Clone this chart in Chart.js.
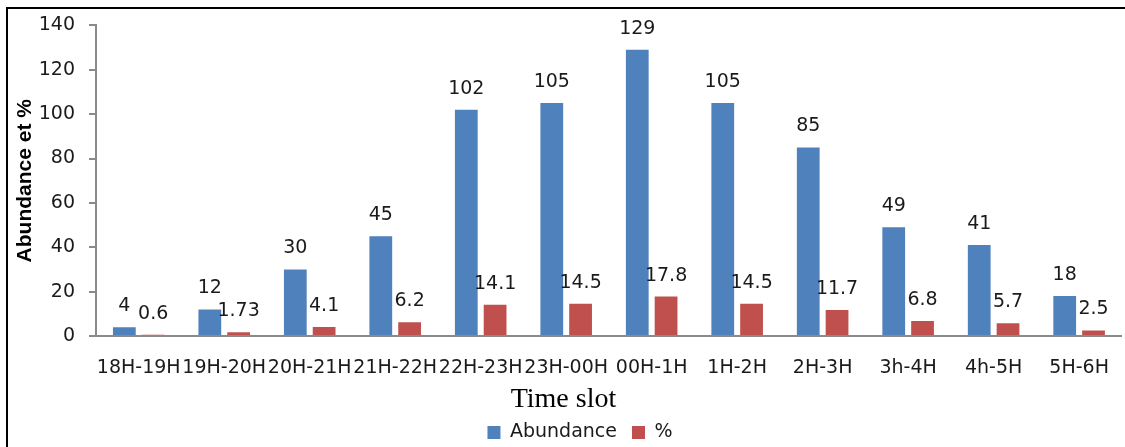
<!DOCTYPE html>
<html lang="en">
<head>
  <meta charset="UTF-8">
  <title>Abundance by time slot</title>
  <script src="https://cdn.jsdelivr.net/npm/chart.js"></script>
  <style>
    html, body { margin: 0; padding: 0; background: #fff; overflow: hidden; width: 1125px; height: 447px; }
    #frame { position: absolute; left: 6px; top: 7px; width: 1200px; height: 500px; border: 2px solid #000; box-sizing: border-box; }
    #wrap { position: absolute; left: 0; top: 0; width: 1130px; height: 452px; }
  </style>
</head>
<body>
  <div id="frame"></div>
  <div id="wrap"><canvas id="chart"></canvas></div>

  <script>
    // chart data
    const timeSlots = ['18H-19H', '19H-20H', '20H-21H', '21H-22H', '22H-23H', '23H-00H',
                       '00H-1H', '1H-2H', '2H-3H', '3h-4H', '4h-5H', '5H-6H'];
    const abundance = [4, 12, 30, 45, 102, 105, 129, 105, 85, 49, 41, 18];
    const percent = [0.6, 1.73, 4.1, 6.2, 14.1, 14.5, 17.8, 14.5, 11.7, 6.8, 5.7, 2.5];

    const sans = 'DejaVu Sans';
    const textColor = '#1a1a1a';
    const axisColor = '#8a8a8a';

    // value labels above each bar
    const barLabels = {
      id: 'barLabels',
      afterDatasetsDraw(chart) {
        const ctx = chart.ctx;
        ctx.save();
        ctx.font = '19px "' + sans + '"';
        ctx.fillStyle = textColor;
        ctx.textAlign = 'center';
        ctx.textBaseline = 'alphabetic';
        chart.data.datasets.forEach((ds, i) => {
          chart.getDatasetMeta(i).data.forEach((bar, j) => {
            ctx.fillText(String(ds.data[j]), bar.x, bar.y - 16);
          });
        });
        ctx.restore();
      }
    };

    const ctx = document.getElementById('chart').getContext('2d');
    new Chart(ctx, {
      type: 'bar',
      data: {
        labels: timeSlots,
        datasets: [
          { label: 'Abundance', data: abundance, backgroundColor: '#4F81BD',
            categoryPercentage: 0.674, barPercentage: 0.79 },
          { label: '%', data: percent, backgroundColor: '#C0504D',
            categoryPercentage: 0.674, barPercentage: 0.79 }
        ]
      },
      options: {
        responsive: true,
        maintainAspectRatio: false,
        animation: false,
        // left padding pushes the legend centre right, the y scale is narrowed to match
        layout: { padding: { top: 24, right: 2, left: 32, bottom: 0 } },
        plugins: {
          tooltip: { enabled: false },
          legend: {
            position: 'bottom',
            labels: {
              boxWidth: 13,
              boxHeight: 13,
              padding: 15,
              color: textColor,
              font: { family: sans, size: 19 }
            }
          }
        },
        scales: {
          x: {
            grid: { display: false, drawTicks: false },
            border: { color: axisColor, width: 2 },
            ticks: {
              color: textColor,
              font: { family: sans, size: 19 },
              padding: 21,
              autoSkip: false,
              maxRotation: 0,
              minRotation: 0
            },
            title: {
              display: true,
              // trailing spaces nudge the centred title left like the original
              text: 'Time slot             ',
              color: '#000',
              font: { family: 'Liberation Serif', size: 28, lineHeight: 1 },
              padding: { top: 0, bottom: -6 }
            },
            afterFit(scale) { scale.height = 72; }
          },
          y: {
            min: 0,
            max: 140,
            grid: { display: true, drawOnChartArea: false, tickLength: 7, color: axisColor, lineWidth: 2 },
            border: { color: axisColor, width: 2 },
            ticks: {
              stepSize: 20,
              color: textColor,
              font: { family: sans, size: 19 },
              padding: 14
            },
            title: {
              display: true,
              text: 'Abundance et %',
              color: '#000',
              font: { family: 'Liberation Sans', size: 21, weight: 'bold' },
              padding: { top: -19, bottom: 0 }
            },
            afterFit(scale) { scale.width = 64; }
          }
        }
      },
      plugins: [barLabels]
    });
  </script>
</body>
</html>
